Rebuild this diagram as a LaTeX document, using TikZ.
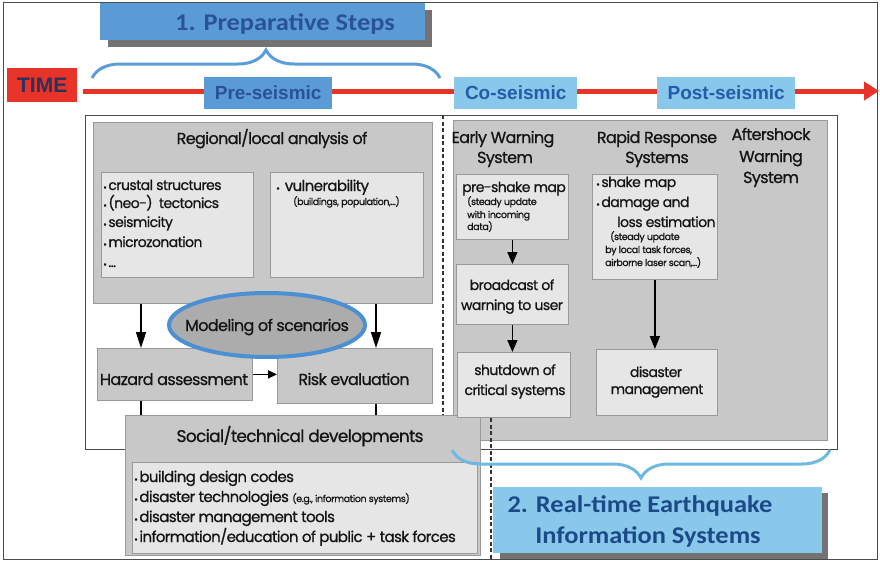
\documentclass[tikz,border=0pt]{standalone}
\usepackage{fontspec}
\setmainfont{Poppins}[LetterSpace=-4, FakeBold=0.8]
\newfontfamily\calfont{Carlito}
\newfontfamily\arialfont{Liberation Sans}
\usetikzlibrary{arrows.meta,decorations.pathreplacing,shapes.geometric}
\newcommand\fsz[1]{\fontsize{#1}{#1}\selectfont}
\newcommand\bul{\raisebox{-0.5pt}{\fsz{9}•}\hspace{1.5pt}}
\definecolor{stepblue}{RGB}{91,155,213}
\definecolor{steptext}{RGB}{42,82,150}
\definecolor{lightblue}{RGB}{137,200,234}
\definecolor{lbtext}{RGB}{35,92,170}
\definecolor{timered}{RGB}{232,52,40}
\definecolor{timetext}{RGB}{40,50,95}
\definecolor{panelgray}{RGB}{200,200,200}
\definecolor{innergray}{RGB}{230,230,230}
\definecolor{ellgray}{RGB}{172,172,172}
\definecolor{ellblue}{RGB}{74,144,210}
\definecolor{braceblue}{RGB}{90,158,215}
\definecolor{bracelight}{RGB}{110,185,225}
\definecolor{textdark}{RGB}{20,20,20}
\tikzset{
  gbox/.style={draw=black!40, fill=panelgray, line width=0.8pt, inner sep=0pt, anchor=north west},
  ibox/.style={gbox, fill=innergray},
  tl/.style={inner sep=0pt, anchor=base west, text=textdark, font=\fsz{14}},
  tc/.style={tl, anchor=base},
  hd/.style={tc, font=\fsz{16}},
  sm/.style={tl, font=\fsz{9.5}},
  arr/.style={draw=black, line width=1.6pt, -{Triangle[length=12pt,width=10pt]}},
  bluebox/.style={fill=stepblue, inner sep=0pt, anchor=north west},
  lbbox/.style={fill=lightblue, inner sep=0pt, anchor=north west},
  shadowbox/.style={fill=black!55, inner sep=0pt, anchor=north west},
  dashline/.style={draw=black!80, line width=1.5pt, dash pattern=on 4pt off 2.5pt},
  bigtitle/.style={inner sep=0pt, anchor=base, text=steptext, font=\calfont\bfseries\fsz{24}},
  phase/.style={font=\arialfont\bfseries\fsz{19}},
}
\newcommand\wide[1]{\scalebox{1.1}[1]{#1}}
\begin{document}
\begin{tikzpicture}[x=1pt,y=-1pt]
\useasboundingbox (0,0) rectangle (880,562);
% outer frame
\node[draw=black!70, line width=1pt, minimum width=874pt, minimum height=557pt, inner sep=0pt, anchor=north west] (frame) at (3,2) {};
% big white box
\node[draw=black!70, fill=white, line width=1pt, minimum width=752pt, minimum height=334pt, inner sep=0pt, anchor=north west] (bigbox) at (85,115) {};
% right grey panel
\node[gbox, minimum width=374pt, minimum height=320pt] (rpanel) at (453,120) {};
% dashed separators
\coordinate (d1a) at (443,115); \coordinate (d1b) at (443,415);
\coordinate (d2a) at (491,418); \coordinate (d2b) at (491,560);
\draw[dashline] (d1a) -- (d1b);
\draw[dashline] (d2a) -- (d2b);

% time axis
\node[fill=timered, minimum width=70pt, minimum height=34pt, inner sep=0pt, anchor=north west] (timebox) at (7,68) {};
\node[inner sep=0pt, text=timetext, font=\arialfont\bfseries\fsz{21}] (timetxt) at (timebox.center) {TIME};
\coordinate (tstart) at (83,91); \coordinate (tend) at (879,91);
\draw[timered, line width=5pt, -{Triangle[length=15pt,width=18pt]}] (tstart) -- (tend);
\node[bluebox, minimum width=128pt, minimum height=32pt] (pre) at (204,77) {};
\node[phase, text=steptext, inner sep=0pt] (pretxt) at (pre.center) {Pre-seismic};
\node[lbbox, minimum width=123pt, minimum height=32pt] (co) at (454,77) {};
\node[phase, text=lbtext, inner sep=0pt] (cotxt) at (co.center) {Co-seismic};
\node[lbbox, minimum width=138pt, minimum height=32pt] (post) at (657,77) {};
\node[phase, text=lbtext, inner sep=0pt] (posttxt) at (post.center) {Post-seismic};

% title 1
\node[shadowbox, minimum width=324pt, minimum height=37pt] (t1sh) at (108,10) {};
\node[bluebox, minimum width=325pt, minimum height=37pt] (t1) at (100,3) {};
\node[bigtitle] (t1txt) at (285,30) {\wide{1. Preparative Steps}};
\coordinate (brA) at (92,78); \coordinate (brB) at (440,78);
\draw[braceblue, line width=3pt, decorate, decoration={brace, amplitude=28pt}] (brA) -- (brB);

% regional analysis
\node[gbox, minimum width=339pt, minimum height=181pt] (regional) at (93,122) {};
\node[hd] (regT) at (272,144) {Regional/local analysis of};
\node[ibox, minimum width=152pt, minimum height=105pt] (crust) at (101,172) {};
\node[ibox, minimum width=153pt, minimum height=105pt] (vuln) at (270,172) {};
\node[tl] (c1) at (103,190) {\bul crustal structures};
\node[tl] (c2) at (103,208) {\bul (neo-)\ \ tectonics};
\node[tl] (c3) at (103,227) {\bul seismicity};
\node[tl] (c4) at (103,247) {\bul microzonation};
\node[tl] (c5) at (103,267) {\bul ...};
\node[tl, font=\fsz{15}] (v1) at (276,191) {\bul\ vulnerability};
\node[sm] (v2) at (293,205) {(buildings, population,...)};

% hazard / risk
\node[gbox, minimum width=155pt, minimum height=52pt] (hazard) at (97,348) {};
\node[gbox, minimum width=155pt, minimum height=55pt] (risk) at (277,348) {};
\node[hd] (hazT) at (174,385) {Hazard assessment};
\node[hd] (riskT) at (354,385) {Risk evaluation};
\coordinate (ax1) at (141,0); \coordinate (ax2) at (376,0);
\draw[arr, -{Triangle[length=16pt,width=10pt]}] (regional.south -| ax1) -- (hazard.north -| ax1);
\draw[arr, -{Triangle[length=16pt,width=10pt]}] (regional.south -| ax2) -- (risk.north -| ax2);
\draw[arr, -{Triangle[length=9pt,width=8pt]}] (hazard.east) -- (risk.west |- hazard.east);
\node[ellipse, fill=ellgray, draw=ellblue, line width=4pt, minimum width=196pt, minimum height=64pt, inner sep=0pt] (model) at (267,325) {};
\node[hd] (modelT) at (267,331) {Modeling of scenarios};

% social / technical
\node[gbox, minimum width=355pt, minimum height=140pt] (social) at (125,415) {};
\draw[line width=1.4pt] (hazard.south -| ax1) -- (social.north -| ax1);
\draw[line width=1.4pt] (risk.south -| ax2) -- (social.north -| ax2);
\node[ibox, minimum width=345pt, minimum height=91pt] (socin) at (132,462) {};
\node[hd, font=\fsz{17}] (socT) at (300,442) {Social/technical developments};
\node[tl, font=\fsz{15}] (s1) at (134,482) {\bul building design codes};
\node[tl, font=\fsz{15}] (s2) at (134,502) {\bul disaster technologies {\fsz{9.5}(e.g., information systems)}};
\node[tl, font=\fsz{15}] (s3) at (134,522) {\bul disaster management tools};
\node[tl, font=\fsz{15}] (s4) at (134,542) {\bul information/education of public + task forces};

% right panel headers
\node[hd] (ew1) at (503,143) {Early Warning};
\node[hd] (ew2) at (505,163) {System};
\node[hd] (rr1) at (657,143) {Rapid Response};
\node[hd] (rr2) at (657,163) {Systems};
\node[hd] (as1) at (771,140) {Aftershock};
\node[hd] (as2) at (771,162) {Warning};
\node[hd] (as3) at (771,183) {System};

% early warning chain
\node[ibox, minimum width=112pt, minimum height=65pt] (preshake) at (456,174) {};
\node[tl] (ps1) at (462,192) {pre-shake map};
\node[sm] (ps2) at (467,205) {(steady update};
\node[sm] (ps3) at (467,218) {with incoming};
\node[sm] (ps4) at (467,230) {data)};
\node[ibox, minimum width=112pt, minimum height=60pt] (broadcast) at (456,264) {};
\node[tc] (bc1) at (512,290) {broadcast of};
\node[tc] (bc2) at (512,310) {warning to user};
\node[ibox, minimum width=113pt, minimum height=65pt] (shutdown) at (457,352) {};
\node[tc] (sd1) at (515,375) {shutdown of};
\node[tc] (sd2) at (515,395) {critical systems};
\draw[arr] (preshake.south) -- (broadcast.north);
\draw[arr] (broadcast.south) -- (shutdown.north -| broadcast.south);

% rapid response chain
\node[ibox, minimum width=125pt, minimum height=105pt] (rapid) at (592,174) {};
\node[tl] (rp1) at (596,187) {\bul shake map};
\node[tl] (rp2) at (596,207) {\bul damage and};
\node[tl] (rp3) at (617,227) {loss estimation};
\node[sm] (rp4) at (610,240) {(steady update};
\node[sm] (rp5) at (605,253) {by local task forces,};
\node[sm] (rp6) at (605,266) {airborne laser scan,...)};
\node[ibox, minimum width=121pt, minimum height=66pt] (dmgmt) at (596,349) {};
\node[tc] (dm1) at (656,377) {disaster};
\node[tc] (dm2) at (657,394) {management};
\draw[arr, -{Triangle[length=13pt,width=10pt]}] (rapid.south) -- (dmgmt.north -| rapid.south);

% bottom brace and title 2
\coordinate (brC) at (830,450); \coordinate (brD) at (452,450);
\draw[bracelight, line width=3pt, decorate, decoration={brace, amplitude=28pt}] (brC) -- (brD);
\node[shadowbox, minimum width=328pt, minimum height=66pt] (t2sh) at (500,493) {};
\node[lbbox, minimum width=329pt, minimum height=66pt] (t2) at (493,487) {};
\node[bigtitle, text=lbtext!80!black] (t2a) at (640,512) {\wide{2. Real-time Earthquake}};
\node[bigtitle, text=lbtext!80!black] (t2b) at (648,543) {\wide{Information Systems}};
\end{tikzpicture}
\end{document}
